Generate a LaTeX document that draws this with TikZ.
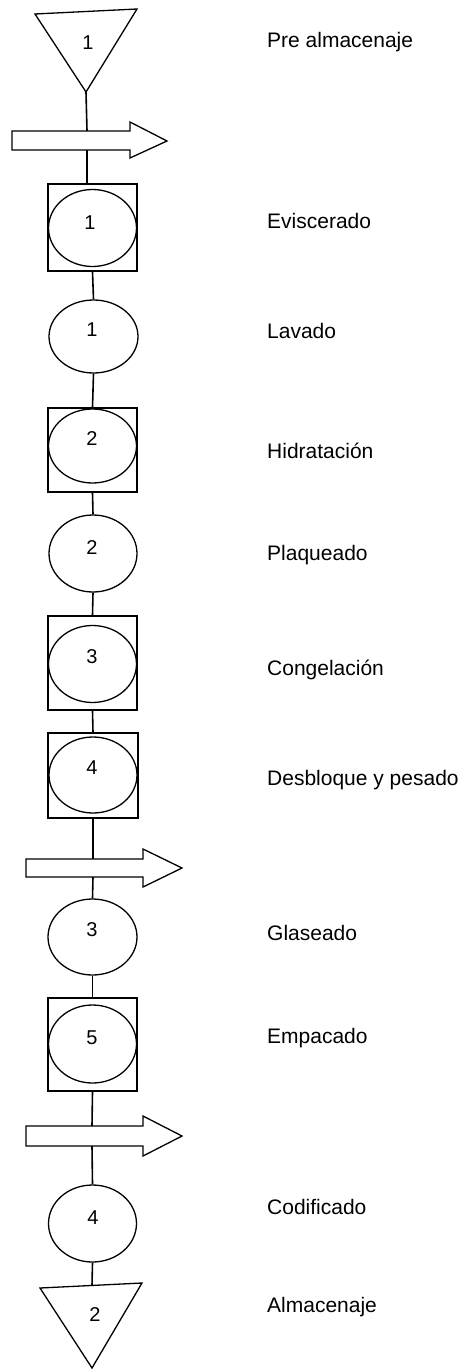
\documentclass[tikz,border=0pt]{standalone}
\usepackage{fontspec}
\setmainfont{Liberation Sans}
\usetikzlibrary{shapes.geometric}
\begin{document}
\begin{tikzpicture}[x=1pt,y=-1pt, line join=miter,
  shp/.style={draw, line width=1.3pt},
  sq/.style={shp, rectangle, minimum width=89pt, minimum height=87pt, inner sep=0pt},
  ov/.style={shp, ellipse, inner sep=0pt, minimum width=88pt, minimum height=77pt},
  num/.style={inner sep=0pt, font=\fontsize{20}{22}\selectfont},
  lab/.style={anchor=base west, inner sep=0pt, font=\fontsize{21}{24}\selectfont},
  conn/.style={line width=1.6pt}]
\useasboundingbox (0,0) rectangle (464,1370);

% top storage triangle
\draw[shp] (35,14) -- (137,9) -- (86,92) -- cycle;
\coordinate (t1) at (86,92);
\node[num] (n0) at (88,43) {1};

% arrow 1
\draw[shp] (12,131) -- (130,131) -- (130,122) -- (167,141) -- (130,158) -- (130,150) -- (12,150) -- cycle;
\coordinate (a1n) at (87,131);
\coordinate (a1s) at (87,150);

% square 1
\node[sq] (s1) at (92.5,227.5) {};
\node[ov] (e1) at (92.5,228) {};
\node[num] (n1) at (90,223) {1};

% circle 1
\node[ov, minimum height=73pt, minimum width=89pt] (c1) at (93.5,336.5) {};
\node[num] (n2) at (92,330) {1};

% square 2
\node[sq, minimum height=84pt] (s2) at (92.5,450) {};
\node[ov, minimum height=74pt] (e2) at (92.5,446) {};
\node[num] (n3) at (92,439) {2};

% circle 2
\node[ov] (c2) at (93,553.5) {};
\node[num] (n4) at (92,548) {2};

% square 3
\node[sq, minimum height=94pt] (s3) at (92.5,663) {};
\node[ov] (e3) at (92.5,664) {};
\node[num] (n5) at (92,657) {3};

% square 4
\node[sq, minimum width=90pt, minimum height=85pt] (s4) at (93,775.5) {};
\node[ov, minimum height=76pt] (e4) at (93,775) {};
\node[num] (n6) at (92,768) {4};

% arrow 2
\draw[shp] (26,859) -- (143,859) -- (143,849) -- (182,868) -- (143,887) -- (143,877) -- (26,877) -- cycle;
\coordinate (a2n) at (93,859);
\coordinate (a2s) at (93,877);

% circle 3
\node[ov, minimum width=89pt, minimum height=76pt] (c3) at (92.5,937) {};
\node[num] (n7) at (92,930) {3};

% square 5
\node[sq, minimum height=93pt] (s5) at (92.5,1044.5) {};
\node[ov, minimum height=78pt] (e5) at (92.5,1044) {};
\node[num] (n8) at (92,1038) {5};

% arrow 3
\draw[shp] (26,1126) -- (143,1126) -- (143,1116) -- (182,1136) -- (143,1156) -- (143,1146) -- (26,1146) -- cycle;
\coordinate (a3n) at (92,1126);
\coordinate (a3s) at (92,1146);

% circle 4
\node[ov] (c4) at (92.5,1223.5) {};
\node[num] (n9) at (93,1218) {4};

% bottom storage triangle
\draw[shp] (40,1288) -- (142,1283) -- (92,1368) -- cycle;
\coordinate (t2) at (92,1285.5);
\node[num] (n10) at (95,1315) {2};

% connectors
\draw[conn] (t1) -- (a1n);
\draw[conn] (a1s) -- (a1s |- s1.north);
\draw[conn] (s1.south) -- (c1.north);
\draw[conn] (c1.south) -- (s2.north);
\draw[conn] (s2.south) -- (c2.north);
\draw[conn] (c2.south) -- (s3.north);
\draw[conn] (s3.south) -- (s4.north);
\draw[conn] (s4.south) -- (a2n);
\draw[conn] (a2s) -- (c3.north);
\draw[conn] (c3.south) -- (s5.north);
\draw[conn] (s5.south) -- (a3n);
\draw[conn] (a3s) -- (c4.north);
\draw[conn] (c4.south) -- (t2);

% labels
\node[lab] (l1) at (267,48) {Pre almacenaje};
\node[lab] (l2) at (267,228) {Eviscerado};
\node[lab] (l3) at (267,338) {Lavado};
\node[lab] (l4) at (267,458) {Hidratación};
\node[lab] (l5) at (267,560) {Plaqueado};
\node[lab] (l6) at (267,675) {Congelación};
\node[lab] (l7) at (267,785) {Desbloque y pesado};
\node[lab] (l8) at (267,940) {Glaseado};
\node[lab] (l9) at (267,1043) {Empacado};
\node[lab] (l10) at (267,1214) {Codificado};
\node[lab] (l11) at (267,1312) {Almacenaje};
\end{tikzpicture}
\end{document}
